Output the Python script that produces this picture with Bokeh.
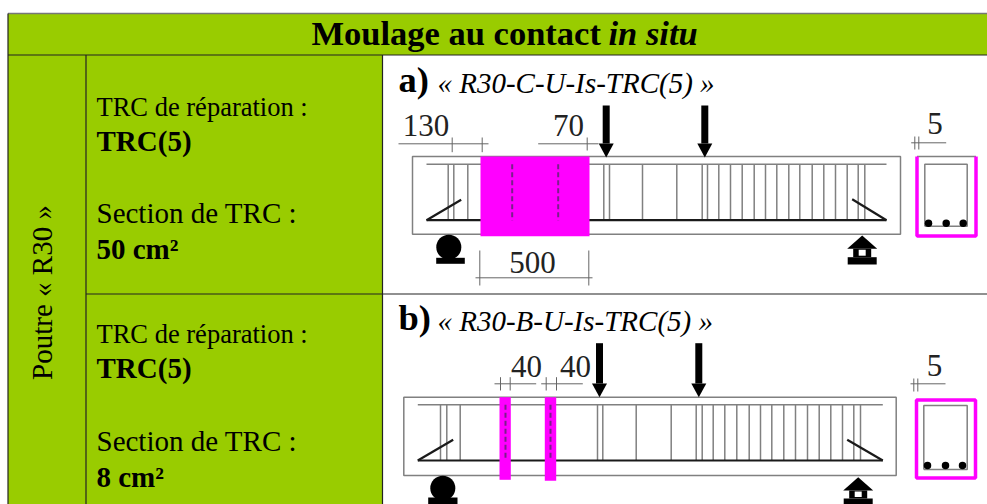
from bokeh.plotting import figure
from bokeh.models import Range1d
from bokeh.core.properties import value
from bokeh.embed import file_html
from bokeh.resources import INLINE
import math

GREEN = "#99CC00"
MAGENTA = "#FF00FF"
GREY = "#808080"
SERIF = "Liberation Serif"

title_bold = "Moulage au contact"
title_italic = "in situ"
side_label = "Poutre « R30 »"
row_labels = [("TRC de réparation :", "TRC(5)", "Section de TRC :", "50 cm²"),
              ("TRC de réparation :", "TRC(5)", "Section de TRC :", "8 cm²")]
row_letters = ["a)", "b)"]
row_names = ["« R30-C-U-Is-TRC(5) »", "« R30-B-U-Is-TRC(5) »"]

stirrups_a = [447.7, 453.3, 467.3, 603.3, 609, 642, 676.3, 701.7, 707, 718.3, 730, 741.7, 753.7, 765,
              776.3, 788.3, 799.3, 811.7, 823.3, 835, 846.7, 857.7, 864.3]
stirrups_b = [440, 446.3, 459.7, 597, 602.3, 635.7, 670.7, 695.7, 701.7, 712.7, 724.3, 736.3, 748.7, 760,
              771.3, 783.3, 795, 807, 818.7, 830.3, 842, 853.3, 860]

p = figure(width=987, height=504, x_range=Range1d(0, 987), y_range=Range1d(504, 0),
           output_backend="svg", toolbar_location=None, min_border=0,
           background_fill_color="white", border_fill_color="white")
p.axis.visible = False
p.grid.visible = False
p.outline_line_color = None


def txt(x, y, s, size, style="normal", align="left", angle=0, color="#000000"):
    shift = 0.35 * size
    if angle:
        x -= shift
    else:
        y -= shift
    p.text([x], [y], text=[s], text_font=value(SERIF), text_font_size=f"{size}px",
           text_font_style=style, text_align=align, text_baseline="alphabetic",
           angle=angle, text_color=color)


def seg(x0, y0, x1, y1, color=GREY, w=1.0, dash="solid"):
    p.segment([x0], [y0], [x1], [y1], line_color=color, line_width=w, line_dash=dash)


def box(l, r, t, b, fill):
    p.quad(left=[l], right=[r], top=[t], bottom=[b], fill_color=fill, line_color=None)


# table
box(7.5, 990, 13, 54.5, GREEN)
box(7.5, 85.5, 54.5, 510, GREEN)
box(85.5, 382, 54.5, 510, GREEN)
BORDER = "#222222"
seg(7.5, 13, 990, 13, color="#777777", w=1.5)
for a in [(7.5, 54.5, 990, 54.5), (7.5, 13, 7.5, 510),
          (85.5, 54.5, 85.5, 510), (382, 54.5, 382, 510), (85.5, 293.5, 990, 293.5)]:
    seg(*a, color=BORDER, w=1.2)

# cell text
txt(311, 45, title_bold, 34.5, "bold")
txt(608, 45, title_italic, 34.5, "bold italic")
txt(52, 292, side_label, 29, angle=math.pi / 2, align="center")
for (a, b, c, d), ys in zip(row_labels, [(116, 151, 222.5, 258.5), (343, 378, 451, 487)]):
    txt(96, ys[0], a, 26.5)
    txt(96, ys[1], b, 29, "bold")
    txt(96, ys[2], c, 29)
    txt(96, ys[3], d, 29, "bold")
txt(398, 92, row_letters[0], 36.5, "bold")
txt(437, 93, row_names[0], 29, "italic")
txt(398, 330, row_letters[1], 36.5, "bold")
txt(437, 331, row_names[1], 29, "italic")


def arrow(x, y0, y1, yt):
    box(x - 3.5, x + 3.5, y0, y1, "#000000")
    p.patch([x - 7.5, x + 7.5, x], [y1, y1, yt], fill_color="#000000", line_color=None)


def beam(l, r, t, b, xa, xb, yt, yb, stirrups, bent):
    p.quad(left=[l], right=[r], top=[t], bottom=[b], fill_color=None, line_color=GREY, line_width=1.5)
    seg(xa, yt, xb, yt, w=1.5)
    p.segment(stirrups, [yt] * len(stirrups), stirrups, [yb] * len(stirrups), line_color=GREY, line_width=1.5)
    seg(xa, yb, xb, yb, color="#1a1a1a", w=2.2)
    seg(xa, yb, bent[0], bent[1], color="#1a1a1a", w=2.2)
    seg(xb, yb, bent[2], bent[3], color="#1a1a1a", w=2.2)


def dim(x0, x1, y, ticks, t0, t1):
    seg(x0, y, x1, y, color="#666666", w=1)
    for t in ticks:
        seg(t, t0, t, t1, color="#666666", w=1)


def left_support(cx, cy, l, r, t, b):
    p.scatter([cx], [cy], size=25, marker="circle", fill_color="#000000", line_color=None)
    box(l, r, t, b, "#000000")


def right_support(cx, top, yh, yb, base_t, base_b):
    p.patch([cx - 15, cx + 15, cx], [yh, yh, top], fill_color="#000000", line_color=None)
    box(cx - 9, cx + 9, yh, base_t, "#000000")
    box(cx - 14.5, cx + 14.5, base_t, base_b, "#000000")
    box(cx - 3.5, cx + 3.5, yh + 1, base_t - 1.5, "#ffffff")


def section(l, r, t, b, il, ir, it, ib, dots, dy, top_magenta):
    if top_magenta:
        p.quad(left=[l], right=[r], top=[t], bottom=[b], fill_color=None, line_color=MAGENTA, line_width=3.5)
    else:
        seg(l, t, r, t, w=1.5)
        p.multi_line([[l, l, r, r]], [[t, b, b, t]], line_color=MAGENTA, line_width=3.5)
    p.multi_line([[il, il, ir, ir, il]], [[ib, it, it, ib, ib]], line_color=GREY, line_width=1.5)
    p.scatter(dots, [dy] * len(dots), size=7.5, marker="circle", fill_color="#000000", line_color=None)


# --- row a
beam(412, 900, 156, 233.7, 426, 886, 163.7, 219.7, stirrups_a, (460.7, 199.3, 851.7, 198.7))
box(480, 589, 156, 235.7, MAGENTA)
for x in (511.7, 557.7):
    seg(x, 163.7, x, 220, color="#7a1f8a", w=2, dash="5 3")
arrow(605.7, 105, 143, 157)
arrow(704.3, 105, 143, 157)
dim(398, 488, 143.3, [451.7, 481.7], 137, 151.7)
dim(537.7, 598, 143.3, [586.7], 137, 150)
dim(475, 592, 277.3, [479.3, 588.3], 250, 285)
txt(425.5, 136, "130", 31, align="center", color="#222222")
txt(568, 136, "70", 31, align="center", color="#222222")
txt(532, 273, "500", 31, align="center", color="#222222")
left_support(448.3, 246.7, 435.7, 464.3, 257.3, 263.3)
right_support(861.7, 235, 248.3, 256.7, 256.7, 264)
section(916.5, 975.5, 156, 235.5, 924.3, 966.7, 163.7, 225.7, [928, 945.7, 962.7], 222.7, False)
dim(910.7, 945.7, 142.3, [914.3, 918.3], 136, 149)
txt(934.5, 134, "5", 31, align="center", color="#222222")

# --- row b
beam(403.3, 895.7, 396.7, 475, 417.3, 882.3, 404.3, 460, stirrups_b, (452.7, 439.3, 846.7, 439.3))
box(499, 510.3, 396.7, 479.3, MAGENTA)
box(544.3, 555.7, 396.7, 480.3, MAGENTA)
for x in (505, 550):
    seg(x, 404.3, x, 460, color="#7a1f8a", w=2, dash="5 3")
arrow(599, 342.7, 383, 396.7)
arrow(698.3, 342.7, 383, 396.7)
dim(494, 535.7, 383.3, [500, 509.7], 376.7, 390)
dim(540.7, 582.3, 383.3, [545.7, 556], 376.7, 390)
txt(526, 377, "40", 31, align="center", color="#222222")
txt(575, 377, "40", 31, align="center", color="#222222")
left_support(442.3, 487.7, 427.7, 457, 497, 504)
right_support(857.7, 476.7, 490, 498, 498, 504)
section(916, 975, 399.5, 477.5, 923.3, 966.7, 405, 469, [927, 945, 962], 465, True)
dim(910, 945, 383.3, [913.3, 917.3], 378, 391)
txt(934, 376, "5", 31, align="center", color="#222222")

open("out.html", "w").write(file_html(p, INLINE))
